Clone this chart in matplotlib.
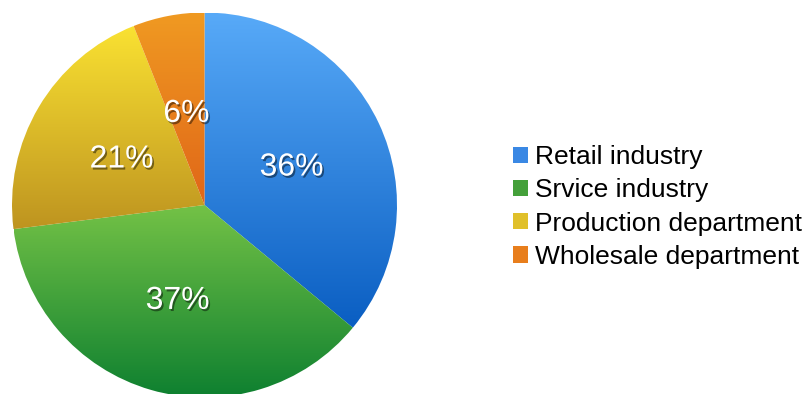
import matplotlib.pyplot as plt
import matplotlib.patheffects as pe
import numpy as np
from matplotlib.colors import LinearSegmentedColormap
from matplotlib.patches import Patch

plt.rcParams['font.family'] = ['Liberation Sans', 'DejaVu Sans']

labels = ['Retail industry', 'Srvice industry', 'Production department', 'Wholesale department']
shares = [36, 37, 21, 6]
# (top colour, bottom colour) of each slice's gradient
top_colors = ['#58aaf8', '#74c246', '#fae232', '#f09a22']
bottom_colors = ['#0a5ec2', '#0e8030', '#be9420', '#e06618']
legend_colors = ['#3a88e4', '#44a03a', '#e0c02a', '#e87e1c']

fig = plt.figure(figsize=(8.04, 3.94), dpi=100)
ax = fig.add_axes([12 / 804, -3.5 / 394, 385 / 804, 385 / 394])

wedges, texts = ax.pie(shares, startangle=90, counterclock=False,
                       labels=[f'{s}%' for s in shares], labeldistance=0.5,
                       wedgeprops=dict(linewidth=0))
ax.set_xlim(-1, 1)
ax.set_ylim(-1, 1)
ax.set_aspect('equal')
ax.axis('off')

grad = np.linspace(0, 1, 256).reshape(-1, 1)
for w, c1, c2 in zip(wedges, top_colors, bottom_colors):
    ext = w.get_path().get_extents()
    cmap = LinearSegmentedColormap.from_list('g', [c1, c2])
    im = ax.imshow(grad, cmap=cmap, aspect='auto', origin='upper',
                   extent=[ext.x0, ext.x1, ext.y0, ext.y1], zorder=1)
    im.set_clip_path(w)
    w.set_facecolor('none')

for t in texts:
    t.set_color('white')
    t.set_fontsize(23)
    t.set_ha('center')
    t.set_va('center_baseline')
    t.set_zorder(3)
    t.set_path_effects([pe.SimplePatchShadow(offset=(1.2, -1.5), shadow_rgbFace='black', alpha=0.45),
                        pe.Normal()])

handles = [Patch(facecolor=c, edgecolor='none') for c in legend_colors]
fig.legend(handles, labels, loc='center left', bbox_to_anchor=(513 / 804, 1 - 207 / 394),
           frameon=False, fontsize=19, handlelength=0.57, handleheight=0.57,
           handletextpad=0.25, labelspacing=0.35, borderpad=0, borderaxespad=0)

fig.savefig('out.png', dpi=100)
